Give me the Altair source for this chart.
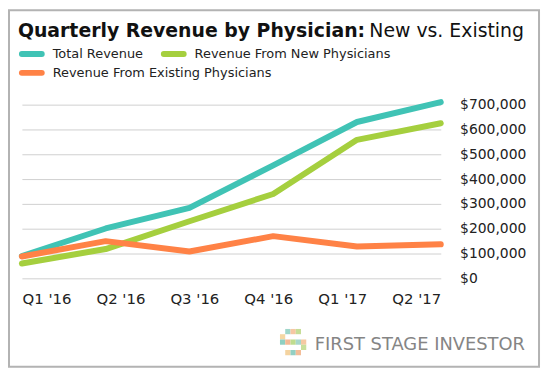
import altair as alt
import pandas as pd

quarters = ["Q1 '16", "Q2 '16", "Q3 '16", "Q4 '16", "Q1 '17", "Q2 '17"]
total_revenue = [90000, 201000, 284000, 455000, 630000, 710000]
new_revenue = [60000, 118000, 230000, 340000, 558000, 625000]
existing_revenue = [88000, 150000, 108000, 170000, 128000, 137000]
series_names = ["Total Revenue", "Revenue From New Physicians", "Revenue From Existing Physicians"]
series_colors = ["#40C3B5", "#A5CF3E", "#FF8246"]
y_ticks = [0, 100000, 200000, 300000, 400000, 500000, 600000, 700000]

title_bold = "Quarterly Revenue by Physician:"
title_normal = "New vs. Existing"
brand = "FIRST STAGE INVESTOR"

FONT = "DejaVu Sans"
W, H = 422, 175

rows = []
for name, vals in zip(series_names, [total_revenue, new_revenue, existing_revenue]):
    for q, v in zip(quarters, vals):
        rows.append({"quarter": q, "series": name, "value": v})
df = pd.DataFrame(rows)
one = pd.DataFrame({"k": [0]})

yaxis = alt.Axis(
    orient="right", values=y_ticks, format="$,.0f", grid=True, gridColor="#d0d0d0",
    gridWidth=1, domain=False, ticks=False, labelPadding=19, labelFont=FONT,
    labelFontSize=14, labelColor="#222222", labelAlign="left", title=None,
)
yscale = alt.Scale(domain=[0, 700000], nice=False, zero=True)
xscale = alt.Scale(type="point", padding=0)

layers = []

# outer border
layers.append(
    alt.Chart(one).mark_rect(fillOpacity=0, stroke="#b3b3b3", strokeWidth=2).encode(
        x=alt.value(-13), x2=alt.value(521), y=alt.value(-95), y2=alt.value(264)
    )
)

# lines (same axis spec on each so the merged axis is kept)
for name, col in zip(series_names, series_colors):
    layers.append(
        alt.Chart(df).transform_filter(alt.datum.series == name).mark_line(
            strokeWidth=6, strokeCap="round", strokeJoin="round", color=col
        ).encode(
            x=alt.X("quarter:N", sort=quarters, scale=xscale, axis=None),
            y=alt.Y("value:Q", scale=yscale, axis=yaxis),
        )
    )

# title
layers.append(
    alt.Chart(one).mark_text(text=title_bold, font=FONT, fontWeight="bold", fontSize=19,
                             align="left", baseline="alphabetic", color="#111111").encode(
        x=alt.value(-4), y=alt.value(-68))
)
layers.append(
    alt.Chart(one).mark_text(text=title_normal, font=FONT, fontSize=19,
                             align="left", baseline="alphabetic", color="#111111").encode(
        x=alt.value(350), y=alt.value(-68))
)

# legend
leg_pos = [(0, 20, 31, -51), (143, 163, 174, -51), (0, 20, 31, -32)]
for (x1, x2, tx, yy), name, col in zip(leg_pos, series_names, series_colors):
    layers.append(
        alt.Chart(one).mark_rule(strokeWidth=6, strokeCap="round", color=col).encode(
            x=alt.value(x1), x2=alt.value(x2), y=alt.value(yy))
    )
    layers.append(
        alt.Chart(one).mark_text(text=name, font=FONT, fontSize=13, align="left",
                                 baseline="middle", color="#222222").encode(
            x=alt.value(tx), y=alt.value(yy))
    )

# brand logo mosaic
pattern = [" ABC ", "DWWWW", "FGHIJ", "WWWWL", " MNO "]
cell_cols = {
    "A": "#9fd6c9", "B": "#f6c7a3", "C": "#c6dd97", "D": "#f4d7a3", "F": "#8fcfc2",
    "G": "#f3b995", "H": "#bfdc8e", "I": "#a7d7cb", "J": "#f5c9a2", "L": "#c9df9b",
    "M": "#f4d3a0", "N": "#93d0c4", "O": "#f3bd98",
}
cs = 5.3
ox, oy = 260, 226
for r, line in enumerate(pattern):
    for c, ch in enumerate(line):
        if ch in cell_cols:
            layers.append(
                alt.Chart(one).mark_point(shape="square", filled=True, opacity=1,
                                          size=cs * cs, color=cell_cols[ch]).encode(
                    x=alt.value(ox + (c + 0.5) * cs), y=alt.value(oy + (r + 0.5) * cs))
            )
layers.append(
    alt.Chart(one).mark_text(text=brand, font=FONT, fontSize=18, align="left",
                             baseline="alphabetic", color="#858585").encode(
        x=alt.value(295), y=alt.value(247))
)

lines_and_deco = alt.layer(*layers)

# x labels on their own point scale
xlabels = alt.Chart(pd.DataFrame({"quarter": quarters})).mark_point(opacity=0).encode(
    x=alt.X("quarter:N", sort=quarters, scale=alt.Scale(type="point", padding=0.332),
            axis=alt.Axis(orient="bottom", labelAngle=0, domain=False, ticks=False,
                          labelPadding=13, labelFont=FONT, labelFontSize=15,
                          labelColor="#222222", title=None, grid=False))
)

chart = alt.layer(lines_and_deco, xlabels).resolve_scale(x="independent").properties(
    width=W, height=H,
    autosize=alt.AutoSizeParams(type="none"),
    padding={"left": 14, "top": 96, "right": 102, "bottom": 91},
    background="white",
).configure_view(stroke=None)

chart.save("out.html", embed_options={"renderer": "svg", "actions": False})
